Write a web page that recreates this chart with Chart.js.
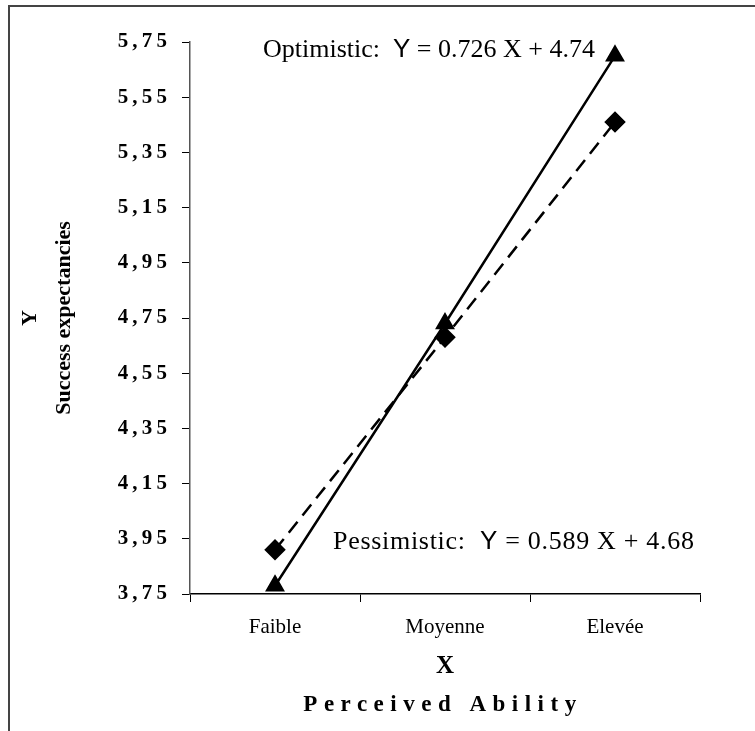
<!DOCTYPE html>
<html>
<head>
<meta charset="utf-8">
<script src="https://cdn.jsdelivr.net/npm/chart.js@4"></script>
<style>
  html, body { margin: 0; padding: 0; background: #fff; }
  #wrap { width: 755px; height: 731px; position: relative; }
</style>
</head>
<body>
<div id="wrap"><canvas id="abilityChart"></canvas></div>
<script>
const categories = ['Faible', 'Moyenne', 'Elevée'];
const optimistic = [3.78, 4.73, 5.70];
const pessimistic = [3.91, 4.68, 5.46];
const yTicks = [3.75, 3.95, 4.15, 4.35, 4.55, 4.75, 4.95, 5.15, 5.35, 5.55, 5.75];

const serif = '"Liberation Serif", "Times New Roman", serif';
const sans = '"Liberation Sans", Arial, sans-serif';

// text pieces drawn on top: equations, x title, frame
const extras = {
    id: 'extras',
    afterDraw(chart) {
        const c = chart.ctx;
        const area = chart.chartArea;
        c.save();
        c.fillStyle = '#000';
        c.textBaseline = 'alphabetic';

        const eq = (x, y, name, rest, sp) => {
            c.letterSpacing = sp;
            c.font = '26px ' + serif;
            c.fillText(name, x, y);
            x += c.measureText(name).width;
            c.font = '26px ' + sans;
            c.fillText('Y', x, y);
            x += c.measureText('Y').width;
            c.font = '26px ' + serif;
            c.fillText(rest, x, y);
            c.letterSpacing = '0px';
        };
        eq(263, 57, 'Optimistic:  ', ' = 0.726 X + 4.74', '0px');
        eq(333, 549, 'Pessimistic:  ', ' = 0.589 X + 4.68', '0.7px');

        // x axis title
        const cx = (area.left + area.right) / 2;
        c.textAlign = 'center';
        c.textBaseline = 'middle';
        c.font = 'bold 25px ' + serif;
        c.fillText('X', cx, 667);
        c.font = 'bold 23px ' + serif;
        c.letterSpacing = '6.5px';
        c.fillText('Perceived Ability', cx - 2, 705);
        c.letterSpacing = '0px';

        // frame
        c.strokeStyle = '#444';
        c.lineWidth = 2;
        c.beginPath();
        c.moveTo(9, 731);
        c.lineTo(9, 6);
        c.lineTo(755, 6);
        c.stroke();
        c.restore();
    }
};

new Chart(document.getElementById('abilityChart'), {
    type: 'line',
    data: {
        labels: categories,
        datasets: [
            {
                label: 'Optimistic',
                data: optimistic,
                borderColor: '#000',
                backgroundColor: '#000',
                borderWidth: 2.5,
                pointStyle: 'triangle',
                pointRadius: 9,
                pointHoverRadius: 9,
                tension: 0
            },
            {
                label: 'Pessimistic',
                data: pessimistic,
                borderColor: '#000',
                backgroundColor: '#000',
                borderWidth: 2.5,
                borderDash: [14, 8],
                pointStyle: 'rectRot',
                pointRadius: 9,
                pointHoverRadius: 9,
                tension: 0
            }
        ]
    },
    options: {
        responsive: true,
        maintainAspectRatio: false,
        animation: false,
        layout: { padding: { left: 10, top: 42, right: 55, bottom: 0 } },
        plugins: {
            legend: { display: false },
            tooltip: { enabled: false }
        },
        scales: {
            x: {
                offset: true,
                grid: { offset: true, drawOnChartArea: false, color: '#000', tickLength: 8, tickColor: '#000' },
                border: { color: '#000', width: 1.5 },
                ticks: { color: '#000', padding: 13, font: { family: serif, size: 21 } },
                afterFit: (s) => { s.height = 137; }
            },
            y: {
                min: 3.75,
                max: 5.75,
                afterBuildTicks: (s) => { s.ticks = yTicks.map(v => ({ value: v })); },
                grid: { drawOnChartArea: false, color: '#000', tickLength: 8, tickColor: '#000' },
                border: { color: '#555', width: 1.5 },
                ticks: {
                    color: '#000',
                    padding: 15,
                    font: { family: serif, size: 21, weight: 'bold' },
                    callback: (v) => v.toFixed(2).replace('.', ',').split('').join('\u2009')
                },
                title: {
                    display: true,
                    text: ['Y', 'Success expectancies'],
                    color: '#000',
                    font: { family: serif, size: 22, weight: 'bold', lineHeight: 1.55 },
                    padding: { top: 3, bottom: 0 }
                },
                afterFit: (s) => { s.width = 180; }
            }
        }
    },
    plugins: [extras]
});
</script>
</body>
</html>
